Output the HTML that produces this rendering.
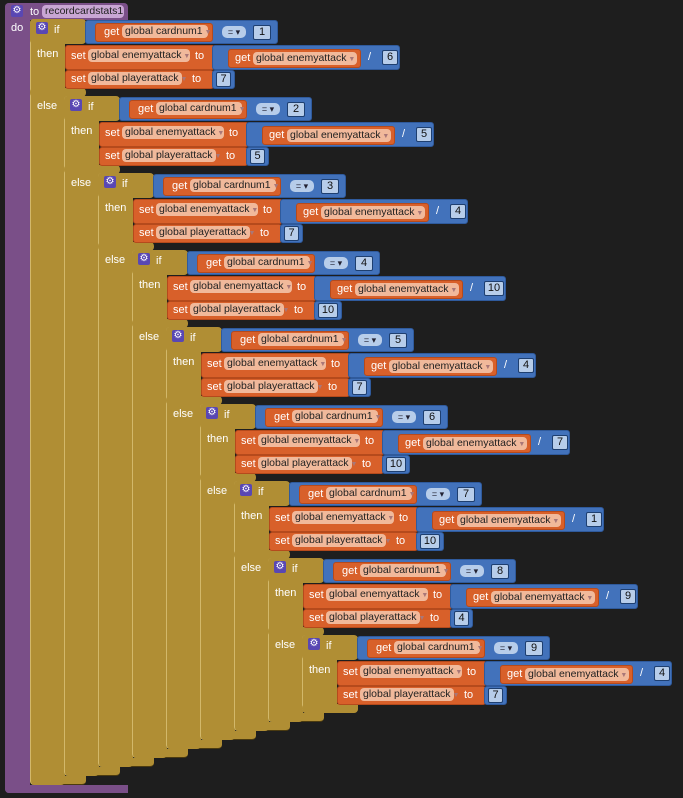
<!DOCTYPE html><html><head><meta charset="utf-8"><style>
body{margin:0;background:#1e1e1e;width:683px;height:798px;overflow:hidden;position:relative;font-family:"Liberation Sans",sans-serif;font-size:11px;color:#fff}
div{position:absolute;box-sizing:border-box}
.g{background:#b08e34;border-radius:4px}
.gc{background:#b08e34;border-radius:4px;border-left:1px solid #d2b86a}
.gb{background:#b08e34;border-radius:0 0 4px 4px;border-bottom:1px solid #4a3a10}
.o{background:#d8602a;border-radius:3px;border:1px solid #b54a1c}
.b{background:#4272bb;border-radius:3px;border:1px solid #2f5a9c}
.p{background:#7a4f88}
.t{white-space:nowrap;line-height:12px}
.pill{background:#f1b99b;color:#222;border-radius:4px;padding:0 3px;height:13px;line-height:13px;white-space:nowrap;font-size:10.5px}
.n{background:#b7cdea;color:#111;border:1px solid #1e3f70;border-radius:2px;text-align:center;line-height:13px;height:15px}
.eq{background:#b7cdea;color:#223;border-radius:5px;height:12px;line-height:12px;text-align:center;font-size:9px}
.gear{width:12px;height:12px;background:#5947b3;border-radius:2px;color:#fff;font-size:10px;line-height:12px;text-align:center}
</style></head><body>
<div class="p" style="left:5px;top:3px;width:25px;height:790px;border-radius:4px 0 0 4px"></div>
<div class="p" style="left:5px;top:3px;width:123px;height:17px;border-radius:4px 4px 0 0"></div>
<div class="p" style="left:5px;top:785px;width:123px;height:8px;border-radius:0 0 0 4px"></div>
<div class="gear" style="left:11px;top:5px">⚙</div>
<div class="t" style="left:30px;top:6px">to</div>
<div class="pill" style="left:42px;top:5px;background:#c9a6d4;width:82px">recordcardstats1</div>
<div class="t" style="left:11px;top:22px">do</div>
<div id="r"></div>
<script>
(function(){
var d=[[1,6,7],[2,5,5],[3,4,7],[4,10,10],[5,4,7],[6,7,10],[7,1,10],[8,9,4],[9,4,7]];
var h='';
function a(c,l,t,w,ht,txt,st){h+='<div class="'+c+'" style="left:'+l+'px;top:'+t+'px;'+(w?'width:'+w+'px;':'')+(ht?'height:'+ht+'px;':'')+(st||'')+'">'+(txt||'')+'</div>';}
var dd='<span style="color:#a77;font-size:7px"> ▼</span>';
for(var i=0;i<9;i++){var X=34*i,Y=77*i,tp=19+Y,bot=785-9*i;
a('gb',30+X,bot-9,56,9);a('gc',30+X,tp,35,bot-tp);a('g',30+X,tp,56,25);a('g',30+X,88+Y,56,9);}
for(var i=0;i<9;i++){var X=34*i,Y=77*i,v=d[i];
a('gear',36+X,22+Y,0,0,'⚙');a('t',54+X,24+Y,0,0,'if');a('t',37+X,48+Y,0,0,'then');
if(i<8)a('t',37+X,100+Y,0,0,'else');
a('b',85+X,20+Y,193,24);a('o',95+X,23+Y,118,19);a('t',104+X,26+Y,0,0,'get');
a('pill',122+X,25+Y,86,0,'global cardnum1'+dd);
a('eq',222+X,26+Y,24,0,'= ▾');a('n',253+X,25+Y,18,0,v[0]);
a('o',65+X,45+Y,150,25);a('t',71+X,50+Y,0,0,'set');a('pill',88+X,49+Y,102,0,'global enemyattack'+dd);a('t',195+X,50+Y,0,0,'to');
var nw=v[1]>9?20:16;
a('b',212+X,45+Y,172+nw,25);a('o',228+X,49+Y,133,19);a('t',235+X,52+Y,0,0,'get');a('pill',253+X,52+Y,104,0,'global enemyattack'+dd);
a('t',368+X,51+Y,0,0,'/');a('n',382+X,50+Y,nw,0,v[1]);
a('o',65+X,70+Y,149,19);a('t',71+X,73+Y,0,0,'set');a('pill',88+X,72+Y,94,0,'global playerattack'+dd);a('t',192+X,73+Y,0,0,'to');
var pw=v[2]>9?20:15;a('b',212+X,70+Y,pw+8,19);a('n',216+X,72+Y,pw,0,v[2]);}
document.getElementById('r').outerHTML=h;
})();
</script>
</body></html>
